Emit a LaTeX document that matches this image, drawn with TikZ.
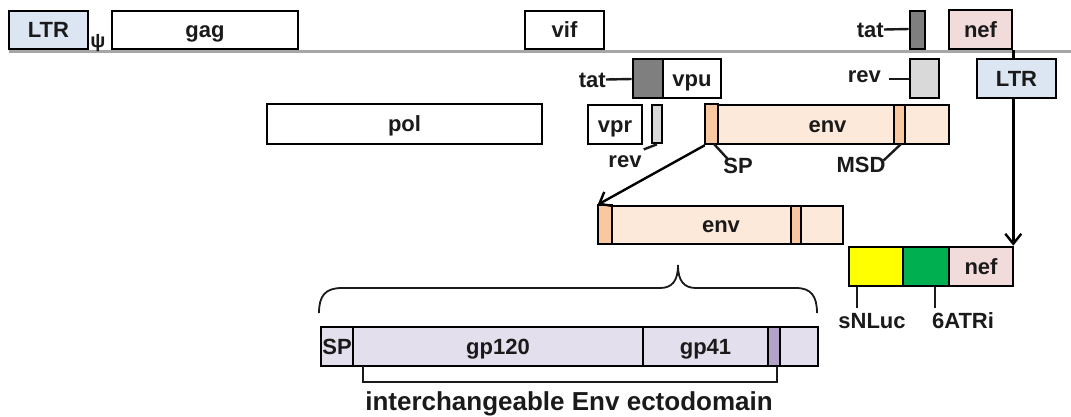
\documentclass[tikz,border=0pt]{standalone}
\usepackage{fontspec}
\setmainfont{Liberation Sans}
\usetikzlibrary{arrows.meta}
\definecolor{ltrblue}{HTML}{DCE6F2}
\definecolor{nefpink}{HTML}{F2DCDB}
\definecolor{tatgray}{HTML}{7F7F7F}
\definecolor{revgray}{HTML}{D9D9D9}
\definecolor{envfill}{HTML}{FDE9D9}
\definecolor{envstripe}{HTML}{FAC8A0}
\definecolor{gpfill}{HTML}{E4DFEC}
\definecolor{tmfill}{HTML}{B3A2C7}
\definecolor{linegray}{HTML}{A6A6A6}
\definecolor{txt}{HTML}{1A1A1A}
\definecolor{lucyellow}{HTML}{FFFF00}
\definecolor{atrgreen}{HTML}{00B050}
\tikzset{
  gene/.style={draw=black, line width=2.6pt, rectangle, inner sep=0pt,
    font=\fontsize{22}{22}\selectfont\bfseries, text=txt,
    text height=15.75pt, text depth=0pt},
  lab/.style={inner sep=0pt, font=\fontsize{22}{22}\selectfont\bfseries, text=txt,
    text height=15.75pt, text depth=0pt},
  conn/.style={line width=2.4pt, draw=txt},
  arr/.style={line width=2.4pt, draw=black, -{Straight Barb[length=10pt,width=16pt]}},
  brace/.style={line width=1.8pt, draw=txt},
}
\begin{document}
\begin{tikzpicture}[x=1pt,y=-1pt]
\useasboundingbox (0,0) rectangle (1071,416);
% background rule
\coordinate (ruleL) at (9,51.5);
\coordinate (ruleR) at (1071,51.5);
\draw[line width=3pt, linegray] (ruleL) -- (ruleR);
% top row
\node[gene, fill=ltrblue, minimum width=79pt, minimum height=38pt] (LTR1) at (48.5,30) {LTR};
\node[inner sep=0pt, font=\fontsize{20}{20}\selectfont\bfseries, text=txt] (psi) at (98,43.5) {ψ};
\node[gene, fill=white, minimum width=186pt, minimum height=38pt] (gag) at (205,30) {gag};
\node[gene, fill=white, minimum width=79pt, minimum height=38pt] (vif) at (564.5,30) {vif};
\node[gene, fill=tatgray, minimum width=15pt, minimum height=38pt] (tat1) at (917.5,30) {};
\node[lab, anchor=east] (tat1lab) at (884,29.5) {tat};
\draw[conn] (tat1lab.east) -- (tat1.west |- 0,29);
\node[gene, fill=nefpink, minimum width=63pt, minimum height=39pt] (nef1) at (980.5,29.5) {nef};
% second row
\node[gene, fill=tatgray, minimum width=30pt, minimum height=39pt] (tat2) at (648,78.5) {};
\node[gene, fill=white, minimum width=58pt, minimum height=39pt] (vpu) at (692,78.5) {vpu};
\node[lab, anchor=east] (tat2lab) at (606,79.5) {tat};
\draw[conn] (tat2lab.east) -- (tat2.west |- 0,79);
\node[gene, fill=revgray, minimum width=29pt, minimum height=39pt] (rev2) at (924.5,78.5) {};
\node[lab, anchor=east] (rev2lab) at (881,74.5) {rev};
\draw[conn] ([xshift=8pt]rev2lab.east |- 0,79) -- (rev2.west |- 0,79);
\node[gene, fill=ltrblue, minimum width=79pt, minimum height=39pt] (LTR2) at (1016.5,78.5) {LTR};
% third row
\node[gene, fill=white, minimum width=275pt, minimum height=40pt] (pol) at (404.5,124) {pol};
\node[gene, fill=white, minimum width=54pt, minimum height=39pt] (vpr) at (615,124.5) {vpr};
\node[gene, fill=revgray, minimum width=10pt, minimum height=38pt] (rev1) at (657,124) {};
\node[lab] (rev1lab) at (625,159.5) {rev};
\draw[conn] (rev1.south) -- ([xshift=2pt,yshift=2pt]rev1lab.north east);
\node[gene, fill=envfill, minimum width=243pt, minimum height=39pt] (envA) at (827.5,124.5) {};
\draw[line width=2.2pt, fill=envstripe] (envA.north west) rectangle (718,144);
\draw[line width=2.2pt, fill=envstripe] (894,105) rectangle (905,144);
\node[lab] at (envA.center) {env};
\node[lab] (SPlab) at (738,165.5) {SP};
\node[lab] (MSDlab) at (861,164.5) {MSD};
\coordinate (spfoot) at (714,144);
\coordinate (msdfoot) at (901,144);
\draw[conn] (spfoot) -- ([xshift=5pt,yshift=-2pt]SPlab.north west);
\draw[conn] (msdfoot) -- ([xshift=-2pt,yshift=-4pt]MSDlab.north east);
% env (middle)
\node[gene, fill=envfill, minimum width=244pt, minimum height=38pt] (envB) at (721,225) {};
\draw[line width=2.2pt, fill=envstripe] (envB.north west) rectangle (612,244);
\draw[line width=2.2pt, fill=envstripe] (791,206) rectangle (801,244);
\node[lab] at (envB.center) {env};
\draw[arr] (envA.south west) -- (envB.north west);
% reporter cassette
\node[gene, fill=lucyellow, minimum width=54pt, minimum height=39pt] (snluc) at (876,266.5) {};
\node[gene, fill=atrgreen, minimum width=46pt, minimum height=39pt] (atri) at (926,266.5) {};
\node[gene, fill=nefpink, minimum width=64pt, minimum height=39pt] (nef2) at (981,266.5) {nef};
\node[lab] (snluclab) at (872,320.5) {sNLuc};
\node[lab] (atrilab) at (963,320.5) {6ATRi};
\draw[conn] (snluc.south -| 857,0) -- (857,308);
\draw[conn] (atri.south -| 935,0) -- (935,308);
% LTR -> nef connectors
\draw[conn, draw=black] (nef1.south east) -- (nef1.east |- LTR2.north);
\draw[arr] (nef1.east |- LTR2.south) -- (nef1.east |- nef2.north);
% brace
\draw[brace] (319,313) .. controls (319,296) and (325,288) .. (342,288) -- (660,288)
  .. controls (672,288) and (678,281) .. (678,265)
  .. controls (678,281) and (684,288) .. (696,288) -- (796,288)
  .. controls (811,288) and (817,296) .. (817,313);
% bottom Env construct
\node[gene, fill=gpfill, minimum width=32pt, minimum height=39pt] (sp) at (337,346.5) {SP};
\node[gene, fill=gpfill, minimum width=290pt, minimum height=39pt] (gp120) at (498,346.5) {gp120};
\node[gene, fill=gpfill, minimum width=125pt, minimum height=39pt] (gp41) at (705.5,346.5) {gp41};
\node[gene, fill=tmfill, minimum width=12pt, minimum height=39pt] (tm) at (774,346.5) {};
\node[gene, fill=gpfill, minimum width=38pt, minimum height=39pt] (ct) at (799,346.5) {};
\draw[line width=2.4pt, draw=txt] (363,366) -- (363,382) -- (777,382) -- (777,366);
\node[inner sep=0pt, font=\fontsize{26}{26}\selectfont\bfseries, text=txt,
  text height=18.6pt, text depth=0pt] (ecto) at (569,401) {interchangeable Env ectodomain};
\end{tikzpicture}
\end{document}
